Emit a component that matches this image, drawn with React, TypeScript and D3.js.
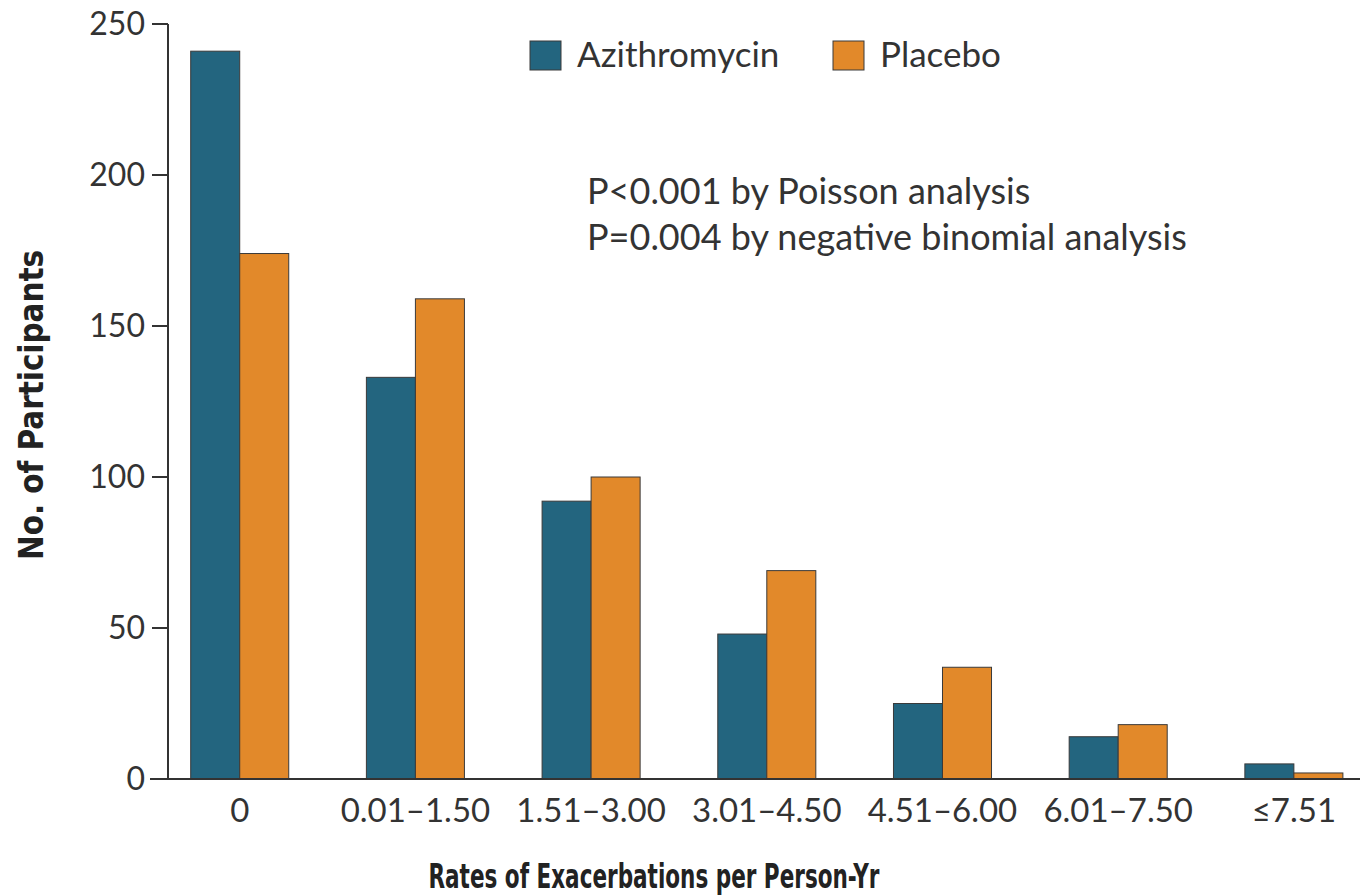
import React from "react";
import * as d3 from "d3";

const categories = ["0", "0.01–1.50", "1.51–3.00", "3.01–4.50", "4.51–6.00", "6.01–7.50", "≤7.51"];
const seriesNames = ["Azithromycin", "Placebo"];
const azithromycin = [241, 133, 92, 48, 25, 14, 5];
const placebo = [174, 159, 100, 69, 37, 18, 2];
const yTicks = [0, 50, 100, 150, 200, 250];
const colors = ["#23657f", "#e2892a"];
const annotation = ["P<0.001 by Poisson analysis", "P=0.004 by negative binomial analysis"];

const W = 1360;
const H = 896;
const FONT = "Lato, 'Open Sans', sans-serif";
const BOLD = "'DejaVu Sans Condensed', 'Open Sans', sans-serif";

export default function App() {
  const y = d3.scaleLinear().domain([0, 250]).range([779, 24]);
  const x = d3.scaleBand<string>().domain(categories).range([190.7, 1342.9]).paddingInner(0.442).paddingOuter(0);
  const xi = d3.scaleBand<string>().domain(seriesNames).range([0, x.bandwidth()]);
  const values = [azithromycin, placebo];
  const axisX = 168;

  return (
    <svg width={W} height={H} style={{ position: "absolute", left: 0, top: 0, background: "#fff" }}>
      <rect x={0} y={0} width={W} height={H} fill="#fff" />
      {categories.map((c, i) =>
        seriesNames.map((s, k) => (
          <rect
            key={c + s}
            x={(x(c) as number) + (xi(s) as number)}
            y={y(values[k][i])}
            width={xi.bandwidth()}
            height={y(0) - y(values[k][i])}
            fill={colors[k]}
            stroke="#3a3a3a"
            strokeWidth={1}
          />
        ))
      )}
      <line x1={axisX} x2={axisX} y1={y(250)} y2={y(0)} stroke="#333" strokeWidth={2} />
      {yTicks.map((t) => (
        <g key={t}>
          <line x1={152} x2={axisX} y1={y(t)} y2={y(t)} stroke="#333" strokeWidth={2} />
          <text x={145} y={y(t)} dy="0.35em" textAnchor="end" fontFamily={FONT} fontSize={32} fill="#333">
            {t}
          </text>
        </g>
      ))}
      <line x1={150} x2={W} y1={y(0)} y2={y(0)} stroke="#333" strokeWidth={2} />
      {categories.map((c) => (
        <text
          key={c}
          x={(x(c) as number) + x.bandwidth() / 2}
          y={822}
          textAnchor="middle"
          fontFamily={FONT}
          fontSize={33}
          fill="#333"
        >
          {c}
        </text>
      ))}
      {seriesNames.map((s, k) => {
        const lx = [530, 833][k];
        return (
          <g key={s}>
            <rect x={lx} y={41} width={31} height={29} fill={colors[k]} stroke="#3a3a3a" strokeWidth={1} />
            <text x={lx + 47} y={67} fontFamily={FONT} fontSize={35} fill="#333">
              {s}
            </text>
          </g>
        );
      })}
      {annotation.map((a, i) => (
        <text key={a} x={587} y={204 + i * 46} fontFamily={FONT} fontSize={36} fill="#333">
          {a}
        </text>
      ))}
      <text
        x={654}
        y={888}
        textAnchor="middle"
        fontFamily={BOLD}
        fontWeight="bold"
        fontSize={33}
        fill="#222"
        textLength={451}
        lengthAdjust="spacingAndGlyphs"
      >
        Rates of Exacerbations per Person-Yr
      </text>
      <text
        transform={`translate(43, 405) rotate(-90)`}
        textAnchor="middle"
        fontFamily={BOLD}
        fontWeight="bold"
        fontSize={33}
        fill="#222"
        textLength={310}
        lengthAdjust="spacingAndGlyphs"
      >
        No. of Participants
      </text>
    </svg>
  );
}
